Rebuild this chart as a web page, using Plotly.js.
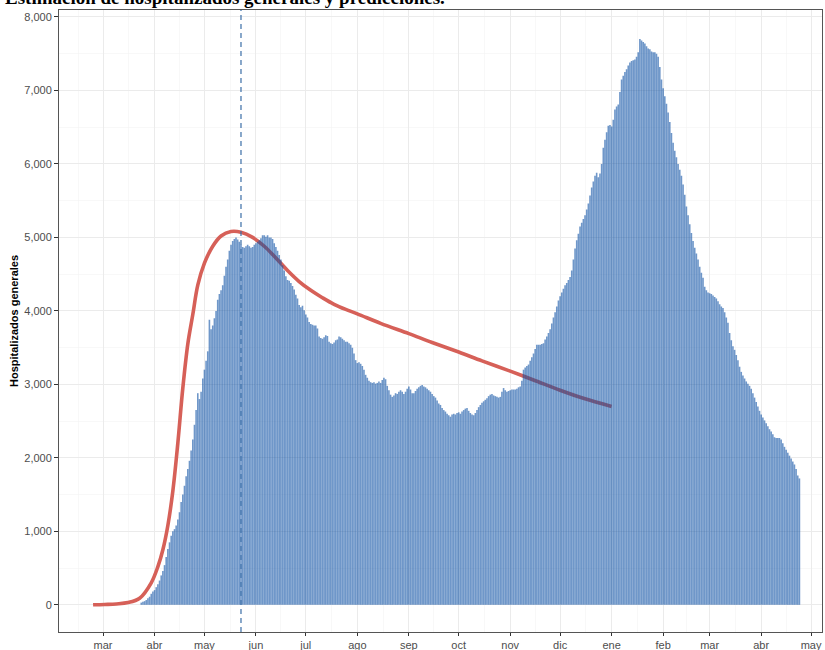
<!DOCTYPE html>
<html>
<head>
<meta charset="utf-8">
<script src="https://cdn.plot.ly/plotly-3.0.1.min.js"></script>
<style>html,body{margin:0;padding:0;background:#fff;}#chart{width:825px;height:650px;}</style>
</head>
<body>
<div id="chart"></div>
<script>
// ---- Data: hospitalizados generales (daily), by month ----
const inicioSerie = '2020-03-24';
const mar2020 = [30,40,50,65,90,110,150,180];
const abr2020 = [200,240,280,330,400,460,540,650,760,850,940,1000,1030,1080,1160,1260,1400,1500,1620,1750,1850,1960,2100,2250,2450,2650,2880,2800,2900,3080];
const may2020 = [3200,3320,3450,3880,3750,3800,3900,4000,4150,4230,4280,4350,4480,4600,4700,4820,4900,4950,4980,5000,4970,4940,4900,4870,4860,4880,4900,4880,4860,4870,4900];
const jun2020 = [4920,4940,4960,4990,5030,5030,5010,5030,5000,5000,4980,4920,4870,4820,4760,4700,4620,4550,4470,4420,4410,4380,4340,4290,4220,4170,4080,4050,4070,4010];
const jul2020 = [3950,3910,3850,3820,3810,3800,3800,3760,3650,3630,3620,3640,3670,3660,3580,3560,3550,3570,3600,3610,3650,3640,3620,3600,3580,3580,3560,3540,3500,3420,3330];
const ago2020 = [3290,3300,3280,3250,3200,3130,3090,3050,3030,3020,3030,3010,3020,3040,3020,3060,3090,3070,2980,2920,2860,2830,2850,2880,2870,2900,2920,2900,2870,2900,2940];
const sep2020 = [2970,2930,2880,2880,2910,2940,2960,2980,2990,2970,2960,2940,2920,2900,2870,2840,2820,2780,2740,2720,2680,2650,2630,2600,2580,2560,2590,2600,2590,2610];
const oct2020 = [2620,2600,2630,2650,2670,2680,2640,2610,2590,2580,2610,2650,2690,2720,2750,2770,2790,2810,2840,2860,2870,2850,2840,2830,2820,2830,2900,2950,2920,2900,2910];
const nov2020 = [2920,2930,2930,2930,2940,2960,2970,3050,3200,3230,3250,3270,3320,3370,3420,3480,3540,3540,3540,3550,3560,3610,3650,3700,3750,3830,3910,3980,4060,4140];
const dic2020 = [4200,4250,4300,4350,4380,4420,4460,4550,4700,4850,4960,5050,5150,5200,5250,5300,5380,5460,5570,5680,5760,5840,5880,5820,5870,6000,6220,6330,6430,6520,6530];
const ene2021 = [6510,6600,6740,6780,6810,6980,7150,7200,7250,7290,7340,7380,7400,7410,7420,7460,7520,7700,7680,7660,7640,7600,7570,7560,7530,7520,7520,7500,7460,7320,7150];
const feb2021 = [7030,6920,6820,6700,6570,6420,6290,6180,6090,6000,5920,5840,5720,5580,5420,5300,5180,5060,4950,4860,4780,4700,4600,4520,4450,4330,4280,4250];
const mar2021 = [4240,4230,4210,4190,4170,4130,4090,4060,4040,3980,3910,3840,3700,3600,3520,3470,3400,3330,3240,3170,3120,3080,3040,3010,2980,2940,2880,2820,2760,2700,2640];
const abr2021 = [2590,2550,2510,2470,2430,2390,2360,2320,2280,2270,2270,2270,2250,2200,2150,2110,2070,2030,1990,1950,1910,1850,1760,1720];

// ---- Prediction curve ----
const predFechas = ['2020-02-24','2020-03-02','2020-03-09','2020-03-16','2020-03-23','2020-03-30','2020-04-03','2020-04-06','2020-04-09','2020-04-12','2020-04-15','2020-04-18','2020-04-21','2020-04-24','2020-04-27','2020-05-01','2020-05-06','2020-05-11','2020-05-17','2020-05-23','2020-05-30','2020-06-06','2020-06-13','2020-06-20','2020-06-27','2020-07-04','2020-07-11','2020-07-18','2020-07-25','2020-08-01','2020-08-15','2020-09-01','2020-09-15','2020-10-01','2020-10-15','2020-11-01','2020-11-15','2020-12-01','2020-12-15','2021-01-01'];
const predValores = [0,5,12,30,90,300,520,750,1080,1550,2200,2950,3550,3950,4350,4650,4880,5020,5080,5070,5000,4880,4720,4550,4400,4280,4180,4090,4020,3960,3830,3690,3570,3440,3320,3180,3060,2920,2810,2700];

// ---- Reference line & axis ticks ----
const fechaCorte = '2020-05-23';
const mesesTicks = ['2020-03-01','2020-04-01','2020-05-01','2020-06-01','2020-07-01','2020-08-01','2020-09-01','2020-10-01','2020-11-01','2020-12-01','2021-01-01','2021-02-01','2021-03-01','2021-04-01','2021-05-01'];
const mesesEtiquetas = ['mar','abr','may','jun','jul','ago','sep','oct','nov','dic','ene','feb','mar','abr','may'];
const mesesMenores = ['2020-02-15','2020-03-16 12:00','2020-04-16','2020-05-16 12:00','2020-06-16','2020-07-16 12:00','2020-08-16 12:00','2020-09-16','2020-10-16 12:00','2020-11-16','2020-12-16 12:00','2021-01-16 12:00','2021-02-15','2021-03-16 12:00','2021-04-16'];
const yTicks = [0,1000,2000,3000,4000,5000,6000,7000,8000];
const yMenores = [500,1500,2500,3500,4500,5500,6500,7500];

// build bar dates
const valores = [].concat(mar2020,abr2020,may2020,jun2020,jul2020,ago2020,sep2020,oct2020,nov2020,dic2020,ene2021,feb2021,mar2021,abr2021);
const t0 = Date.parse(inicioSerie + 'T00:00:00Z');
const fechas = valores.map((_, i) => new Date(t0 + i*86400000).toISOString().slice(0,10));

const xRange = ['2020-02-03 12:00','2021-05-07 14:00'];
const yRange = [-370, 8095];
const tickFont = {family:'Liberation Sans, Arial, sans-serif', size:11, color:'#4d4d4d'};

const traces = [
  {type:'scatter', mode:'lines', x:predFechas, y:predValores, xaxis:'x', yaxis:'y',
   line:{color:'rgb(214,96,88)', width:3.6, shape:'spline', smoothing:1}, hoverinfo:'skip'},
  {type:'bar', x:fechas, y:valores, xaxis:'x2', yaxis:'y2',
   marker:{color:'rgba(15,82,165,0.6)', line:{width:0}}, hoverinfo:'skip'}
];

const layout = {
  width:825, height:650,
  margin:{l:59, r:3, t:10, b:18},
  paper_bgcolor:'#ffffff', plot_bgcolor:'#ffffff',
  showlegend:false, bargap:0.04,
  xaxis:{type:'date', range:xRange, tickmode:'array', tickvals:mesesTicks, ticktext:mesesEtiquetas,
    ticks:'outside', ticklen:3, tickcolor:'#333333', tickwidth:1,
    showline:true, linecolor:'#555555', linewidth:1, mirror:true,
    showgrid:true, gridcolor:'#ebebeb', gridwidth:1, zeroline:false,
    minor:{tickmode:'array', tickvals:mesesMenores, showgrid:true, gridcolor:'#f3f3f3', gridwidth:0.6, ticks:''},
    tickfont:tickFont, fixedrange:true},
  yaxis:{range:yRange, tickmode:'array', tickvals:yTicks, tickformat:',',
    ticks:'outside', ticklen:4, tickcolor:'#333333', tickwidth:1,
    showline:true, linecolor:'#555555', linewidth:1, mirror:true,
    showgrid:true, gridcolor:'#ebebeb', gridwidth:1, zeroline:false,
    minor:{tickmode:'array', tickvals:yMenores, showgrid:true, gridcolor:'#f3f3f3', gridwidth:0.6, ticks:''},
    tickfont:tickFont, fixedrange:true},
  xaxis2:{type:'date', overlaying:'x', range:xRange, visible:false, showgrid:false, fixedrange:true},
  yaxis2:{overlaying:'y', range:yRange, visible:false, showgrid:false, fixedrange:true},
  shapes:[{type:'line', xref:'x', yref:'paper', x0:fechaCorte, x1:fechaCorte, y0:0, y1:1, layer:'above',
    line:{color:'#3b6fa8', width:1.2, dash:'5px,4px'}}],
  annotations:[
    {text:'<b>Estimación de hospitalizados generales y predicciones.</b>', xref:'paper', yref:'paper',
     x:-56/763, y:1, xanchor:'left', yanchor:'middle', yshift:13, showarrow:false,
     font:{family:'Liberation Serif, Times New Roman, serif', size:19, color:'#000'}},
    {text:'<b>Hospitalizados generales</b>', xref:'paper', yref:'paper', x:-45/763, y:0.5,
     xanchor:'center', yanchor:'middle', textangle:-90, showarrow:false,
     font:{family:'Liberation Sans, Arial, sans-serif', size:11, color:'#000'}}
  ]
};

Plotly.newPlot('chart', traces, layout, {staticPlot:true, displayModeBar:false});
</script>
</body>
</html>
